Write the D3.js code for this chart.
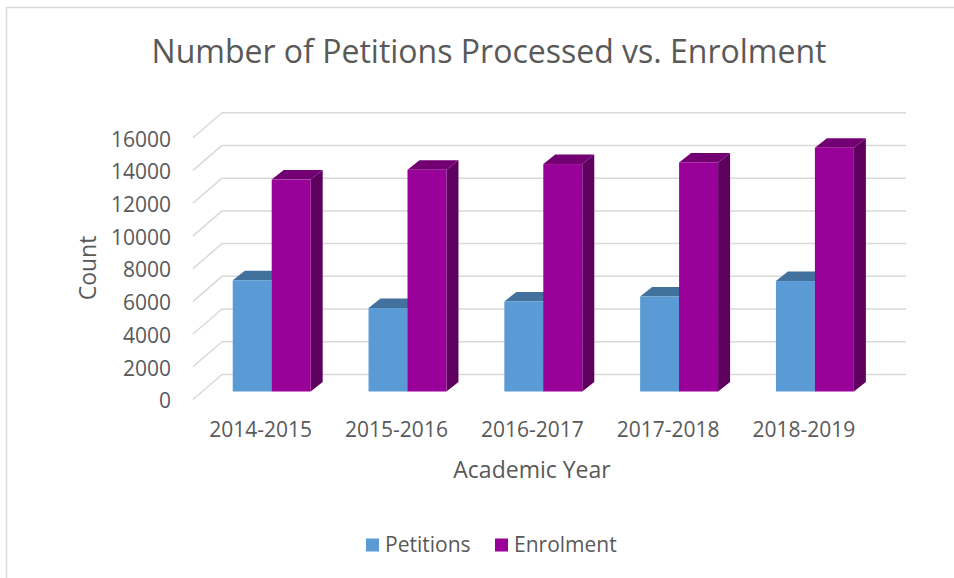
<!DOCTYPE html>
<html>
<head>
<meta charset="utf-8">
<script src="https://cdn.jsdelivr.net/npm/d3@7"></script>
<style>
  body { margin: 0; background: #fff; }
  text { font-family: "Open Sans", sans-serif; fill: #595959; }
</style>
</head>
<body>
<svg id="chart"></svg>
<script>
// data
const years = ["2014-2015", "2015-2016", "2016-2017", "2017-2018", "2018-2019"];
const seriesNames = ["Petitions", "Enrolment"];
const petitions = [6800, 5100, 5500, 5800, 6750];
const enrolment = [12950, 13550, 13900, 14000, 14900];
const yTicks = [0, 2000, 4000, 6000, 8000, 10000, 12000, 14000, 16000];

const width = 954, height = 578;
const svg = d3.select("#chart").attr("width", width).attr("height", height);

// outer frame
svg.append("rect")
  .attr("x", 6.5).attr("y", 7.5)
  .attr("width", width + 20).attr("height", height + 20)
  .attr("fill", "#fff")
  .attr("stroke", "#d9d9d9")
  .attr("stroke-width", 1.5);

// pseudo 3d: back wall and front edge
const wallX0 = 222, wallX1 = 906, frontX = 193;
const depth = { dx: 29, dy: 25 };      // floor / side wall depth
const barDepth = { dx: 12, dy: 9.5 };  // depth of one column
const barShift = 17;                   // bar plane sits this far below back wall

const yBack = d3.scaleLinear().domain([0, 16000]).range([374.5, 112.7]);
const yBar = v => yBack(v) + barShift;

const x0 = d3.scaleBand().domain(years).range([203.8, 882.8])
  .paddingInner(0.426).paddingOuter(0.213);
const x1 = d3.scaleBand().domain(seriesNames).range([0, x0.bandwidth()]);

const colors = {
  Petitions: { front: "#5b9bd5", top: "#41719c", side: "#3a6590" },
  Enrolment: { front: "#990099", top: "#730073", side: "#5e005e" }
};

// gridlines on back wall
const grid = svg.append("g").attr("stroke", "#d9d9d9").attr("stroke-width", 1.5).attr("fill", "none");
grid.selectAll("line.h").data(yTicks).enter().append("line")
  .attr("class", "h")
  .attr("x1", wallX0).attr("x2", wallX1)
  .attr("y1", d => yBack(d)).attr("y2", d => yBack(d));
grid.selectAll("line.d").data(yTicks).enter().append("line")
  .attr("class", "d")
  .attr("x1", frontX).attr("y1", d => yBack(d) + depth.dy)
  .attr("x2", frontX + depth.dx).attr("y2", d => yBack(d));

// y tick labels
svg.append("g").selectAll("text").data(yTicks).enter().append("text")
  .attr("x", 171)
  .attr("y", d => yBack(d) + 26.5)
  .attr("dy", "0.35em")
  .attr("text-anchor", "end")
  .style("font-size", "21px")
  .text(d => d);

// columns
const rows = years.map((y, i) => ({ year: y, values: [petitions[i], enrolment[i]] }));
const groups = svg.selectAll("g.year").data(rows).enter().append("g")
  .attr("class", "year")
  .attr("transform", d => `translate(${x0(d.year)},0)`);

seriesNames.forEach((name, si) => {
  const w = x1.bandwidth();
  const c = colors[name];
  const bx = x1(name);
  // side face
  groups.append("polygon")
    .attr("fill", c.side)
    .attr("points", d => {
      const yt = yBar(d.values[si]), yb = yBar(0);
      return [[bx + w, yt], [bx + w + barDepth.dx, yt - barDepth.dy],
              [bx + w + barDepth.dx, yb - barDepth.dy], [bx + w, yb]].join(" ");
    });
  // top face
  groups.append("polygon")
    .attr("fill", c.top)
    .attr("points", d => {
      const yt = yBar(d.values[si]);
      return [[bx, yt], [bx + barDepth.dx, yt - barDepth.dy],
              [bx + w + barDepth.dx, yt - barDepth.dy], [bx + w, yt]].join(" ");
    });
  // front face
  groups.append("rect")
    .attr("fill", c.front)
    .attr("x", bx)
    .attr("y", d => yBar(d.values[si]))
    .attr("width", w)
    .attr("height", d => yBar(0) - yBar(d.values[si]));
});

// x labels
svg.append("g").selectAll("text").data(years).enter().append("text")
  .attr("x", d => x0(d) + x0.bandwidth() / 2 - 11)
  .attr("y", 430)
  .attr("dy", "0.35em")
  .attr("text-anchor", "middle")
  .style("font-size", "21px")
  .text(d => d);

// titles
svg.append("text")
  .attr("x", 489).attr("y", 52)
  .attr("dy", "0.35em")
  .attr("text-anchor", "middle")
  .style("font-size", "32px")
  .text("Number of Petitions Processed vs. Enrolment");

svg.append("text")
  .attr("x", 532).attr("y", 470)
  .attr("dy", "0.35em")
  .attr("text-anchor", "middle")
  .style("font-size", "23px")
  .text("Academic Year");

svg.append("text")
  .attr("transform", "translate(88,268) rotate(-90)")
  .attr("dy", "0.35em")
  .attr("text-anchor", "middle")
  .style("font-size", "23px")
  .text("Count");

// legend
const legendX = [366, 495];
const legend = svg.append("g");
seriesNames.forEach((name, i) => {
  legend.append("rect")
    .attr("x", legendX[i]).attr("y", 538.5)
    .attr("width", 13).attr("height", 13)
    .attr("fill", colors[name].front);
  legend.append("text")
    .attr("x", legendX[i] + 19).attr("y", 545)
    .attr("dy", "0.35em")
    .style("font-size", "21px")
    .text(name);
});
</script>
</body>
</html>
